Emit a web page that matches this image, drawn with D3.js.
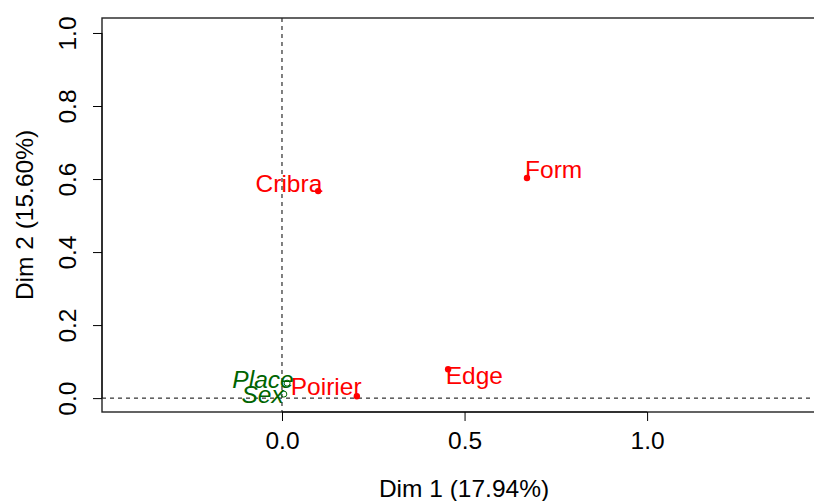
<!DOCTYPE html>
<html lang="en">
  <head>
    <meta charset="utf-8" />
    <title>MCA variables</title>
    <script src="https://d3js.org/d3.v7.min.js"></script>
    <style>
      body { margin: 0; background: #fff; }
      text { font-family: "Liberation Sans", Arial, Helvetica, sans-serif; }
    </style>
  </head>
  <body>
    <div id="container"></div>
    <script>
      // active categories (red)
      var catNames = ["Cribra", "Form", "Edge", "Poirier"];
      var catX = [0.099, 0.671, 0.455, 0.205];
      var catY = [0.567, 0.603, 0.079, 0.005];
      var catLabX = [0.019, 0.744, 0.527, 0.121];
      var catLabY = [0.588, 0.627, 0.062, 0.032];

      // supplementary variables (green)
      var supNames = ["Place", "Sex"];
      var supX = [0.014, 0.005];
      var supY = [0.041, 0.011];
      var supLabX = [-0.052, -0.053];
      var supLabY = [0.051, 0.010];

      var xTicks = [0, 0.5, 1.0];
      var yTicks = [0, 0.2, 0.4, 0.6, 0.8, 1.0];
      var xTitle = "Dim 1 (17.94%)";
      var yTitle = "Dim 2 (15.60%)";

      var width = 814;
      var height = 501;
      // plot region (note: "top" is reserved on window, so use pTop etc.)
      var pLeft = 102, pRight = 826, pTop = 18, pBottom = 412;
      var fs = 24.5;

      var x = d3.scaleLinear().domain([-0.493, 1.490]).range([pLeft, pRight]);
      var y = d3.scaleLinear().domain([-0.038, 1.041]).range([pBottom, pTop]);

      var svg = d3
        .select("#container")
        .append("svg")
        .attr("width", width)
        .attr("height", height);

      // dashed reference lines
      svg.append("line")
        .attr("x1", pLeft).attr("x2", pRight)
        .attr("y1", y(0)).attr("y2", y(0))
        .attr("stroke", "#000").attr("stroke-width", 1)
        .attr("stroke-dasharray", "4,4");
      svg.append("line")
        .attr("x1", x(0)).attr("x2", x(0))
        .attr("y1", pTop).attr("y2", pBottom)
        .attr("stroke", "#000").attr("stroke-width", 1)
        .attr("stroke-dasharray", "4,4");

      // box
      svg.append("rect")
        .attr("x", pLeft).attr("y", pTop)
        .attr("width", pRight - pLeft).attr("height", pBottom - pTop)
        .attr("fill", "none").attr("stroke", "#222").attr("stroke-width", 1.4);

      // x axis
      var xAxis = d3.axisBottom(x)
        .tickValues(xTicks)
        .tickSize(9)
        .tickPadding(11)
        .tickFormat(d3.format(".1f"));
      var gx = svg.append("g")
        .attr("transform", "translate(0," + pBottom + ")")
        .call(xAxis);
      gx.select(".domain").remove();
      gx.append("line")
        .attr("x1", x(xTicks[0])).attr("x2", x(xTicks[xTicks.length - 1]))
        .attr("stroke", "#000").attr("stroke-width", 1);
      gx.selectAll(".tick line").attr("stroke", "#000");
      gx.selectAll(".tick text")
        .attr("fill", "#000")
        .style("font-size", fs + "px")
        .style("font-family", "'Liberation Sans', Arial, sans-serif");

      // y axis
      var yAxis = d3.axisLeft(y)
        .tickValues(yTicks)
        .tickSize(9)
        .tickFormat(d3.format(".1f"));
      var gy = svg.append("g")
        .attr("transform", "translate(" + pLeft + ",0)")
        .call(yAxis);
      gy.select(".domain").remove();
      gy.append("line")
        .attr("y1", y(yTicks[0])).attr("y2", y(yTicks[yTicks.length - 1]))
        .attr("stroke", "#000").attr("stroke-width", 1);
      gy.selectAll(".tick line").attr("stroke", "#000");
      gy.selectAll(".tick text")
        .attr("fill", "#000")
        .attr("x", null).attr("dy", null)
        .attr("text-anchor", "middle")
        .attr("transform", "translate(-26,0) rotate(-90)")
        .attr("y", 0)
        .style("font-size", fs + "px")
        .style("font-family", "'Liberation Sans', Arial, sans-serif");

      // axis titles
      svg.append("text")
        .attr("x", (pLeft + pRight) / 2)
        .attr("y", 497)
        .attr("text-anchor", "middle")
        .style("font-size", fs + "px")
        .text(xTitle);
      svg.append("text")
        .attr("transform", "translate(33," + (pTop + pBottom) / 2 + ") rotate(-90)")
        .attr("text-anchor", "middle")
        .style("font-size", fs + "px")
        .text(yTitle);

      // red categories
      var cats = catNames.map(function (n, i) {
        return { name: n, x: catX[i], y: catY[i], lx: catLabX[i], ly: catLabY[i] };
      });
      svg.selectAll(".cat")
        .data(cats)
        .enter()
        .append("circle")
        .attr("class", "cat")
        .attr("cx", function (d) { return x(d.x); })
        .attr("cy", function (d) { return y(d.y); })
        .attr("r", 3.2)
        .attr("fill", "#ff0000");
      svg.selectAll(".catlab")
        .data(cats)
        .enter()
        .append("text")
        .attr("class", "catlab")
        .attr("x", function (d) { return x(d.lx); })
        .attr("y", function (d) { return y(d.ly); })
        .attr("dy", "0.35em")
        .attr("text-anchor", "middle")
        .attr("fill", "#ff0000")
        .style("font-size", fs + "px")
        .text(function (d) { return d.name; });

      // green supplementary
      var sups = supNames.map(function (n, i) {
        return { name: n, x: supX[i], y: supY[i], lx: supLabX[i], ly: supLabY[i] };
      });
      svg.selectAll(".sup")
        .data(sups)
        .enter()
        .append("circle")
        .attr("class", "sup")
        .attr("cx", function (d) { return x(d.x); })
        .attr("cy", function (d) { return y(d.y); })
        .attr("r", 3)
        .attr("fill", "none")
        .attr("stroke", "#006400")
        .attr("stroke-width", 1);
      svg.selectAll(".suplab")
        .data(sups)
        .enter()
        .append("text")
        .attr("class", "suplab")
        .attr("x", function (d) { return x(d.lx); })
        .attr("y", function (d) { return y(d.ly); })
        .attr("dy", "0.35em")
        .attr("text-anchor", "middle")
        .attr("fill", "#006400")
        .style("font-size", fs + "px")
        .style("font-style", "italic")
        .text(function (d) { return d.name; });
    </script>
  </body>
</html>
